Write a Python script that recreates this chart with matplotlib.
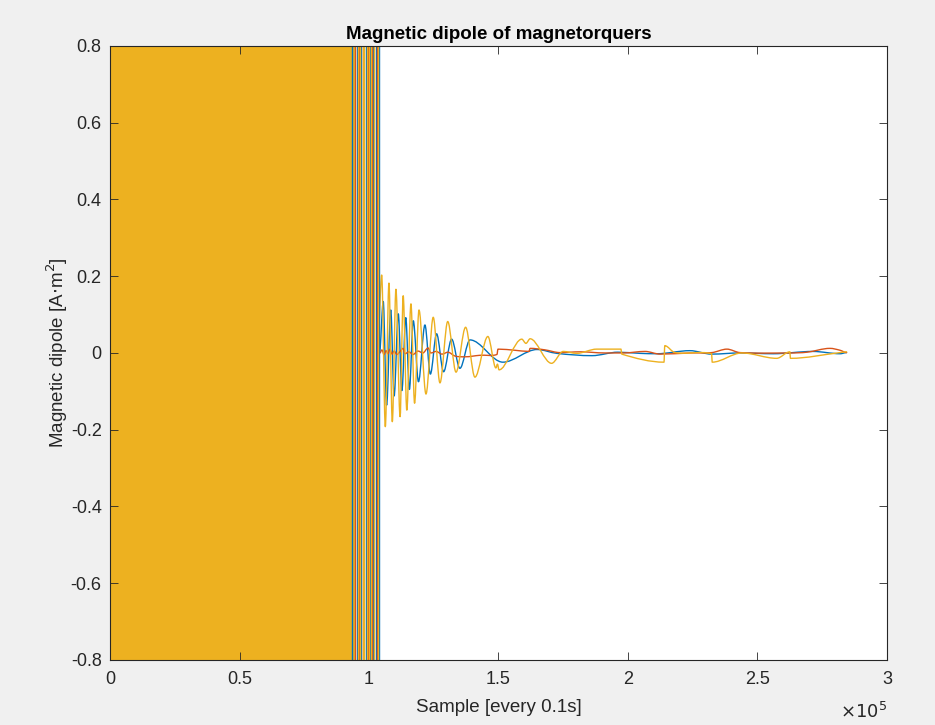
import matplotlib
matplotlib.use('Agg')
import matplotlib.pyplot as plt
from matplotlib.path import Path
from matplotlib.patches import PathPatch

plt.rcParams['font.family'] = ['Liberation Sans', 'DejaVu Sans']

# ---------------- data (samples, A·m^2) ----------------
# saturated (bang-bang) region, where all three dipoles hit the limits
yellow_sat_span = [0, 95000]
sat_low, sat_high = -1.0, 1.0
blue_stripes = [93400, 95400, 96900, 98800, 100400, 101700, 102600, 103600, 104050]
orange_stripes = [94600, 96100, 97700, 99600, 101200, 103100]
yellow_stripes = [95750, 96500, 97500, 98250, 99200, 100000, 100800, 102100, 103300]

# decaying oscillation + steady state tail
blue_x = [104050, 105500, 106800, 108400, 109700, 111300, 112700, 114200, 115600, 117100,
          119100, 121600, 123700, 126100, 128800, 131900, 135100, 139000, 151700, 164900,
          172500, 186100, 196100, 204600, 211100, 223900, 232300, 243200, 256000, 271400,
          281900, 284400]
blue_y = [0.0, 0.134, -0.136, 0.112, -0.112, 0.102, -0.098, 0.092, -0.095, 0.084,
          -0.075, 0.073, -0.055, 0.050, -0.049, 0.036, -0.040, 0.034, -0.024, 0.009,
          -0.001, -0.007, 0.002, -0.001, -0.002, 0.006, -0.003, 0.000, -0.002, 0.004,
          -0.002, 0.001]

orange_x = [104200, 105000, 105800, 106600, 107300, 108100, 108900, 109700, 110800, 112000,
            113100, 113900, 115400, 117000, 118900, 120800, 122800, 123900, 125900, 128200,
            130500, 133200, 137100, 142900, 149400, 149800, 156400, 161800, 162200, 168000,
            173700, 181500, 191100, 198100, 206600, 212400, 223900, 232400, 238200, 243200,
            262500, 269100, 278000, 281900, 284400]
orange_y = [0.0, 0.008, -0.004, 0.006, -0.002, 0.010, -0.003, 0.005, -0.004, 0.004,
            0.012, -0.002, 0.003, -0.004, 0.005, 0.000, 0.013, 0.000, 0.004, -0.003,
            0.002, -0.008, -0.010, -0.006, -0.004, 0.010, 0.007, 0.004, 0.012, 0.008,
            0.001, 0.003, 0.000, 0.000, 0.004, -0.003, 0.000, 0.001, 0.010, 0.001,
            0.000, 0.002, 0.012, 0.007, 0.001]

yellow_x = [103300, 104900, 106300, 107700, 109000, 110400, 112000, 113200, 114600, 116200,
            117600, 119300, 122000, 124800, 127400, 130400, 133600, 137300, 140900, 145900,
            149000, 149600, 150200, 159000, 160600, 162200, 170500, 175000, 180200, 187900,
            197300, 197600, 213900, 214200, 218100, 232300, 232500, 244000, 257400, 262500,
            262700, 281900, 284400]
yellow_y = [0.0, 0.203, -0.192, 0.182, -0.179, 0.166, -0.166, 0.149, -0.149, 0.128,
            -0.131, 0.112, -0.107, 0.093, -0.078, 0.082, -0.050, 0.067, -0.063, 0.043,
            -0.039, -0.029, -0.044, 0.036, 0.025, 0.037, -0.027, 0.004, -0.001, 0.010,
            0.010, -0.003, -0.024, 0.019, 0.001, -0.002, -0.024, 0.000, -0.014, 0.003,
            -0.014, 0.001, 0.003]

x_ticks = [0, 50000, 100000, 150000, 200000, 250000, 300000]
x_tick_labels = ['0', '0.5', '1', '1.5', '2', '2.5', '3']
y_ticks = [-0.8, -0.6, -0.4, -0.2, 0, 0.2, 0.4, 0.6, 0.8]
y_tick_labels = ['-0.8', '-0.6', '-0.4', '-0.2', '0', '0.2', '0.4', '0.6', '0.8']

BLUE, ORANGE, YELLOW = '#0072BD', '#D95319', '#EDB120'
TXT = '#262626'


def smooth_line(ax, xs, ys, color, lw):
    """Draw the data points as a smooth curve (cubic Bezier segments)."""
    n = len(xs)
    slopes = []
    for i in range(n):
        if i == 0 or i == n - 1:
            m = 0.0
        elif (ys[i] - ys[i - 1]) * (ys[i + 1] - ys[i]) <= 0:
            m = 0.0
        else:
            m = (ys[i + 1] - ys[i - 1]) / (xs[i + 1] - xs[i - 1])
        slopes.append(m)
    verts = [(xs[0], ys[0])]
    codes = [Path.MOVETO]
    for i in range(n - 1):
        d = (xs[i + 1] - xs[i]) / 3.0
        verts += [(xs[i] + d, ys[i] + slopes[i] * d),
                  (xs[i + 1] - d, ys[i + 1] - slopes[i + 1] * d),
                  (xs[i + 1], ys[i + 1])]
        codes += [Path.CURVE4] * 3
    ax.add_patch(PathPatch(Path(verts, codes), fill=False, edgecolor=color,
                           lw=lw, joinstyle='round', capstyle='round'))


fig = plt.figure(figsize=(9.35, 7.25), dpi=100, facecolor='#F0F0F0')
ax = fig.add_axes([0.11765, 0.0897, 0.8310, 0.8469])
ax.set_facecolor('white')

lw = 1.0
# series 1 (blue)
ax.vlines(blue_stripes, sat_low, sat_high, color=BLUE, lw=lw)
smooth_line(ax, blue_x, blue_y, BLUE, lw)
# series 2 (orange)
ax.vlines(orange_stripes, sat_low, sat_high, color=ORANGE, lw=lw)
smooth_line(ax, orange_x, orange_y, ORANGE, lw)
# series 3 (yellow)
ax.fill_between(yellow_sat_span, sat_low, sat_high, color=YELLOW, lw=0)
ax.vlines(yellow_stripes, sat_low, sat_high, color=YELLOW, lw=lw)
smooth_line(ax, yellow_x, yellow_y, YELLOW, lw)

ax.set_xlim(0, 300000)
ax.set_ylim(-0.8, 0.8)
ax.set_xticks(x_ticks)
ax.set_xticklabels(x_tick_labels)
ax.set_yticks(y_ticks)
ax.set_yticklabels(y_tick_labels)
ax.tick_params(direction='in', length=5.5, width=0.6, top=True, right=True,
               labelsize=13, colors=TXT)
ax.tick_params(axis='x', pad=8)
ax.tick_params(axis='y', pad=6)
for s in ax.spines.values():
    s.set_color(TXT)
    s.set_linewidth(0.8)

ax.set_title('Magnetic dipole of magnetorquers', fontsize=13.5, fontweight='bold',
             color='black', pad=5)
ax.set_xlabel('Sample [every 0.1s]', fontsize=13.5, color=TXT, labelpad=8)
ax.set_ylabel('Magnetic dipole [A$\\cdot$m$^2$]', fontsize=13.5, color=TXT, labelpad=0.5)
fig.text(887 / 935, 1 - 712 / 725, '$\\times10^5$', ha='right', va='center',
         fontsize=13, color=TXT)

fig.savefig('out.png', dpi=100, facecolor=fig.get_facecolor())
